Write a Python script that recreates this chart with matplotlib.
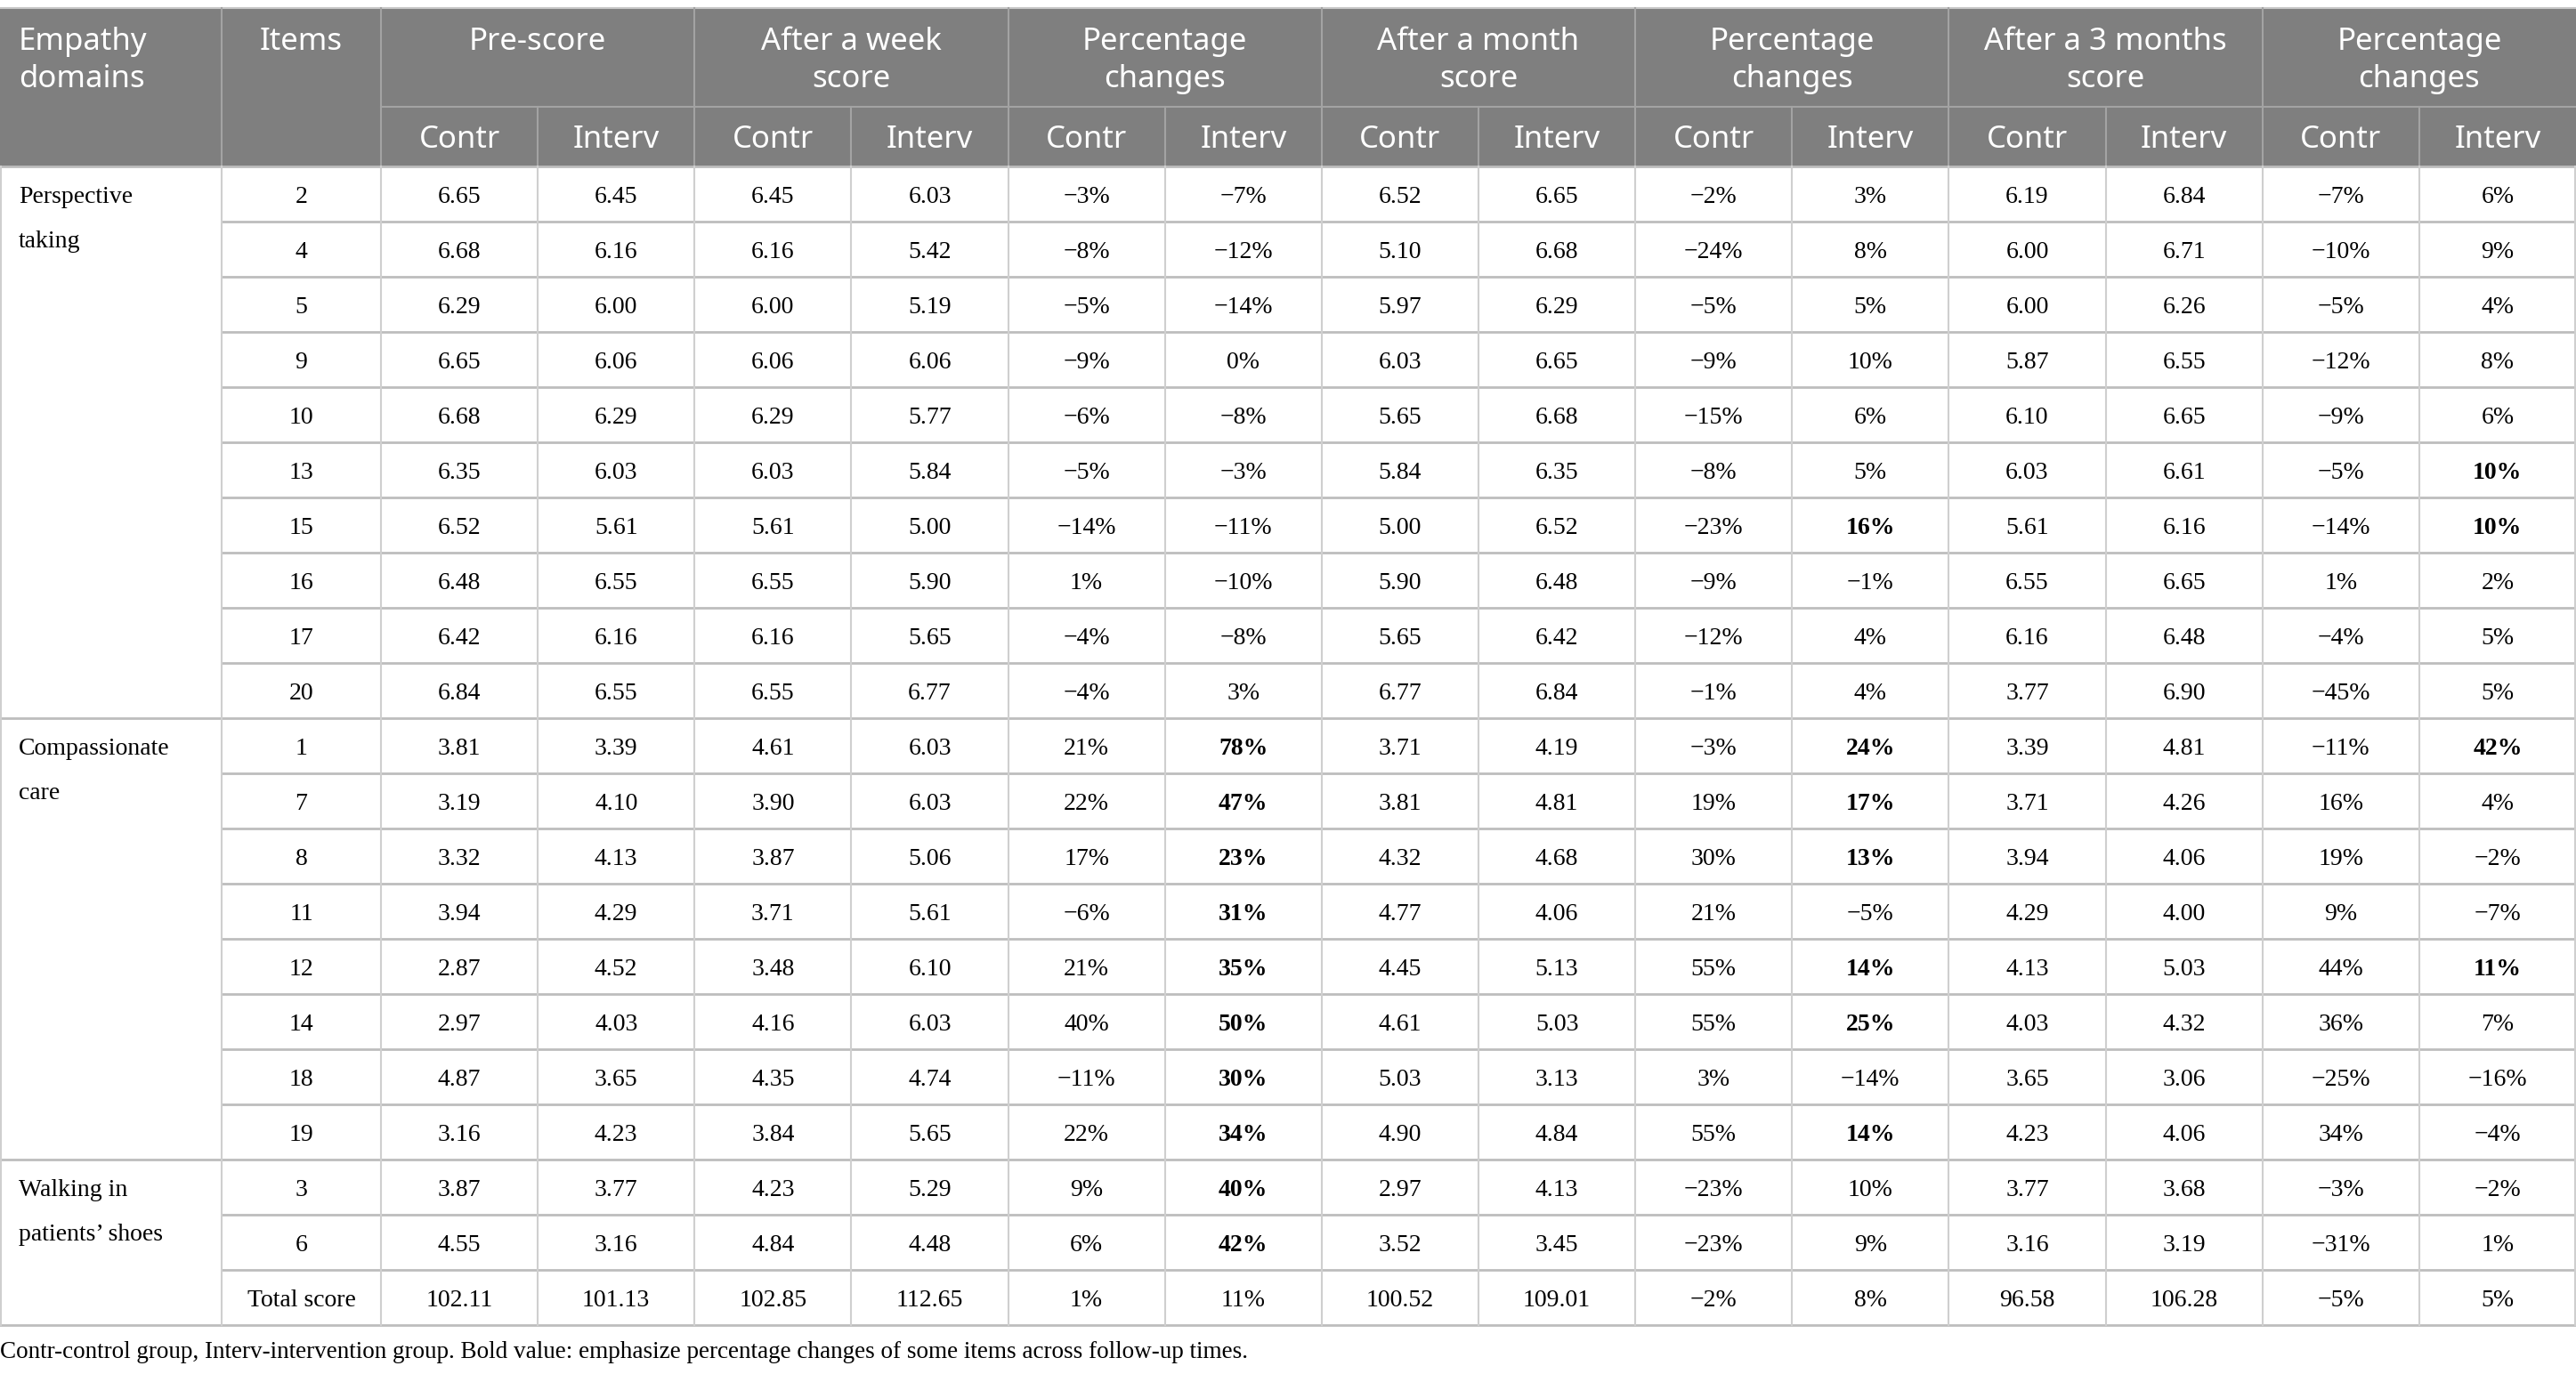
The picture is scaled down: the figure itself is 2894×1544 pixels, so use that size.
import matplotlib
matplotlib.use("Agg")
import matplotlib.pyplot as plt
from matplotlib.patches import Rectangle

# --- table data ---
domains = [("Perspective", "taking"), ("Compassionate", "care"), ("Walking in", "patients\u2019 shoes")]
domain_rows = [10, 8, 3]   # rows spanned by each domain (the last one includes the total row)

items = ['2', '4', '5', '9', '10', '13', '15', '16', '17', '20',
         '1', '7', '8', '11', '12', '14', '18', '19',
         '3', '6', 'Total score']

pre_contr = [6.65, 6.68, 6.29, 6.65, 6.68, 6.35, 6.52, 6.48, 6.42, 6.84,
             3.81, 3.19, 3.32, 3.94, 2.87, 2.97, 4.87, 3.16, 3.87, 4.55, 102.11]
pre_interv = [6.45, 6.16, 6.00, 6.06, 6.29, 6.03, 5.61, 6.55, 6.16, 6.55,
              3.39, 4.10, 4.13, 4.29, 4.52, 4.03, 3.65, 4.23, 3.77, 3.16, 101.13]
week_contr = [6.45, 6.16, 6.00, 6.06, 6.29, 6.03, 5.61, 6.55, 6.16, 6.55,
              4.61, 3.90, 3.87, 3.71, 3.48, 4.16, 4.35, 3.84, 4.23, 4.84, 102.85]
week_interv = [6.03, 5.42, 5.19, 6.06, 5.77, 5.84, 5.00, 5.90, 5.65, 6.77,
               6.03, 6.03, 5.06, 5.61, 6.10, 6.03, 4.74, 5.65, 5.29, 4.48, 112.65]
week_pc_contr = [-3, -8, -5, -9, -6, -5, -14, 1, -4, -4,
                 21, 22, 17, -6, 21, 40, -11, 22, 9, 6, 1]
week_pc_interv = [-7, -12, -14, 0, -8, -3, -11, -10, -8, 3,
                  78, 47, 23, 31, 35, 50, 30, 34, 40, 42, 11]
month_contr = [6.52, 5.10, 5.97, 6.03, 5.65, 5.84, 5.00, 5.90, 5.65, 6.77,
               3.71, 3.81, 4.32, 4.77, 4.45, 4.61, 5.03, 4.90, 2.97, 3.52, 100.52]
month_interv = [6.65, 6.68, 6.29, 6.65, 6.68, 6.35, 6.52, 6.48, 6.42, 6.84,
                4.19, 4.81, 4.68, 4.06, 5.13, 5.03, 3.13, 4.84, 4.13, 3.45, 109.01]
month_pc_contr = [-2, -24, -5, -9, -15, -8, -23, -9, -12, -1,
                  -3, 19, 30, 21, 55, 55, 3, 55, -23, -23, -2]
month_pc_interv = [3, 8, 5, 10, 6, 5, 16, -1, 4, 4,
                   24, 17, 13, -5, 14, 25, -14, 14, 10, 9, 8]
m3_contr = [6.19, 6.00, 6.00, 5.87, 6.10, 6.03, 5.61, 6.55, 6.16, 3.77,
            3.39, 3.71, 3.94, 4.29, 4.13, 4.03, 3.65, 4.23, 3.77, 3.16, 96.58]
m3_interv = [6.84, 6.71, 6.26, 6.55, 6.65, 6.61, 6.16, 6.65, 6.48, 6.90,
             4.81, 4.26, 4.06, 4.00, 5.03, 4.32, 3.06, 4.06, 3.68, 3.19, 106.28]
m3_pc_contr = [-7, -10, -5, -12, -9, -5, -14, 1, -4, -45,
               -11, 16, 19, 9, 44, 36, -25, 34, -3, -31, -5]
m3_pc_interv = [6, 9, 4, 8, 6, 10, 10, 2, 5, 5,
                42, 4, -2, -7, 11, 7, -16, -4, -2, 1, 5]

# bold cells (row indices) in the Interv percentage columns
bold_week = [10, 11, 12, 13, 14, 15, 16, 17, 18, 19]
bold_month = [6, 10, 11, 12, 14, 15, 17]
bold_m3 = [5, 6, 10, 14]

groups = ["Pre-score", "After a week\nscore", "Percentage\nchanges", "After a month\nscore",
          "Percentage\nchanges", "After a 3 months\nscore", "Percentage\nchanges"]
sub_labels = ["Contr", "Interv"]
footnote = ("Contr-control group, Interv-intervention group. Bold value: emphasize "
            "percentage changes of some items across follow-up times.")


def fmt_score(v):
    return f"{v:.2f}"


def fmt_pct(v):
    return (f"\u2212{abs(v)}%" if v < 0 else f"{v}%")


columns = [
    [fmt_score(v) for v in pre_contr], [fmt_score(v) for v in pre_interv],
    [fmt_score(v) for v in week_contr], [fmt_score(v) for v in week_interv],
    [fmt_pct(v) for v in week_pc_contr], [fmt_pct(v) for v in week_pc_interv],
    [fmt_score(v) for v in month_contr], [fmt_score(v) for v in month_interv],
    [fmt_pct(v) for v in month_pc_contr], [fmt_pct(v) for v in month_pc_interv],
    [fmt_score(v) for v in m3_contr], [fmt_score(v) for v in m3_interv],
    [fmt_pct(v) for v in m3_pc_contr], [fmt_pct(v) for v in m3_pc_interv],
]
bold = {(5, r) for r in bold_week} | {(9, r) for r in bold_month} | {(13, r) for r in bold_m3}

# --- layout (pixels) ---
W, H = 2894, 1544
top, h1, h2 = 9, 120, 187
row_h = 62
x_dom, x_items, x_vals = 0, 249, 428
val_w = (W - x_vals) / 14
n_rows = len(items)
bottom = h2 + n_rows * row_h
dy = 3   # text sits a little below the geometric centre

head_fill = '#7f7f7f'
head_line = '#a3a3a3'
grid_h = '#bdbdbd'
grid_v = '#cfcfcf'
serif = ['Liberation Serif', 'DejaVu Serif']
sans = ['Noto Sans', 'DejaVu Sans']
fs_body = 20
fs_head = 25

fig = plt.figure(figsize=(W / 100, H / 100), dpi=100)
ax = fig.add_axes([0, 0, 1, 1])
ax.set_xlim(0, W)
ax.set_ylim(H, 0)
ax.axis('off')

# header background
ax.add_patch(Rectangle((0, top), W, h2 - top, facecolor=head_fill, edgecolor='none'))
ax.plot([0, W], [top, top], color='#c8c8c8', lw=1.5)

# header lines
ax.plot([x_vals, W], [h1, h1], color=head_line, lw=1.5)
for x in [x_items, x_vals] + [x_vals + k * 2 * val_w for k in range(1, 7)]:
    ax.plot([x, x], [top, h2], color=head_line, lw=1.5)
for k in range(7):
    x = x_vals + (2 * k + 1) * val_w
    ax.plot([x, x], [h1, h2], color=head_line, lw=1.5)

# header text
ax.text(21, 47, "Empathy", ha='left', va='center', color='white', fontsize=fs_head, family=sans)
ax.text(21, 89, "domains", ha='left', va='center', color='white', fontsize=fs_head, family=sans)
ax.text((x_items + x_vals) / 2, 47, "Items", ha='center', va='center', color='white',
        fontsize=fs_head, family=sans)
for k, g in enumerate(groups):
    cx = x_vals + (2 * k + 1) * val_w
    for j, line in enumerate(g.split("\n")):
        ax.text(cx, 47 + j * 42, line, ha='center', va='center', color='white',
                fontsize=fs_head, family=sans)
    for j, s in enumerate(sub_labels):
        ax.text(x_vals + (2 * k + j + 0.5) * val_w, (h1 + h2) / 2 + dy, s, ha='center',
                va='center', color='white', fontsize=fs_head, family=sans)

# body grid: horizontal lines
group_starts = [0]
for n in domain_rows[:-1]:
    group_starts.append(group_starts[-1] + n)
for r in range(n_rows + 1):
    y = h2 + r * row_h
    x0 = x_dom if (r in group_starts or r == n_rows) else x_items
    ax.plot([x0, W], [y, y], color=grid_h, lw=2)
# vertical lines
for x in [1, x_items] + [x_vals + k * val_w for k in range(14)] + [W - 1]:
    ax.plot([x, x], [h2, bottom], color=grid_v, lw=1.5)

# domain labels
for (l1, l2), r0 in zip(domains, group_starts):
    cy = h2 + (r0 + 0.5) * row_h + dy
    ax.text(21, cy, l1, ha='left', va='center', fontsize=fs_body, family=serif)
    ax.text(21, cy + 50, l2, ha='left', va='center', fontsize=fs_body, family=serif)

# items and values
for r in range(n_rows):
    cy = h2 + (r + 0.5) * row_h + dy
    ax.text((x_items + x_vals) / 2, cy, items[r], ha='center', va='center',
            fontsize=fs_body, family=serif)
    for c, col in enumerate(columns):
        ax.text(x_vals + (c + 0.5) * val_w, cy, col[r], ha='center', va='center',
                fontsize=fs_body, family=serif,
                fontweight='bold' if (c, r) in bold else 'normal')

ax.text(0, 1520, footnote, ha='left', va='center', fontsize=19.5, family=serif)

fig.savefig("out.png", dpi=100)
